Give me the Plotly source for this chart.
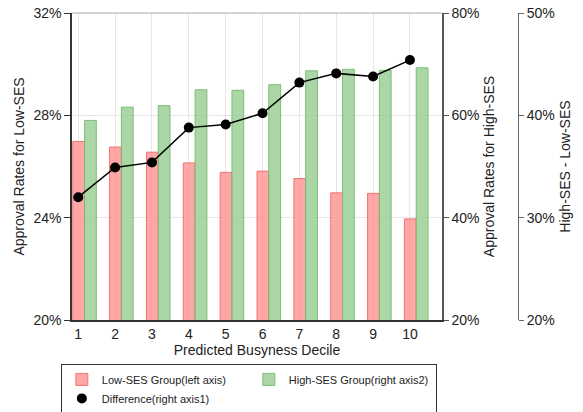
import plotly.graph_objects as go

# Predicted busyness deciles
deciles = [1, 2, 3, 4, 5, 6, 7, 8, 9, 10]

# Approval rates (%) by group
low_ses = [26.98, 26.76, 26.56, 26.14, 25.77, 25.82, 25.53, 24.97, 24.95, 23.95]
high_ses = [59.0, 61.6, 61.9, 65.0, 64.9, 66.0, 68.7, 69.0, 68.8, 69.3]
difference = [32.0, 34.9, 35.4, 38.8, 39.1, 40.2, 43.2, 44.1, 43.8, 45.4]

left_ticks = [20, 24, 28, 32]
right1_ticks = [20, 40, 60, 80]
right2_ticks = [20, 30, 40, 50]

FONT = "Liberation Sans, Arial, sans-serif"
BAR_W = 0.32

fig = go.Figure()

fig.add_trace(go.Bar(
    x=deciles, y=low_ses, name="Low-SES Group(left axis)",
    width=BAR_W, offset=-0.15,
    marker=dict(color="rgba(255,145,145,0.8)",
                line=dict(color="rgba(240,105,105,0.9)", width=1)),
    yaxis="y", base=0,
))
fig.add_trace(go.Bar(
    x=deciles, y=high_ses, name="High-SES Group(right axis2)",
    width=BAR_W, offset=0.17,
    marker=dict(color="rgba(150,205,145,0.8)",
                line=dict(color="rgba(115,185,110,0.9)", width=1)),
    yaxis="y2", base=0,
))
fig.add_trace(go.Scatter(
    x=deciles, y=difference, mode="lines+markers",
    line=dict(color="black", width=1.5),
    marker=dict(color="black", size=10),
    yaxis="y3", showlegend=False,
))
# marker-only legend entry for the difference series
fig.add_trace(go.Scatter(
    x=[None], y=[None], mode="markers", name="Difference(right axis1)",
    marker=dict(color="black", size=10), yaxis="y3",
))

axis_font = dict(family=FONT, size=14, color="#222")

fig.update_layout(
    width=583, height=412,
    margin=dict(l=72, r=65, t=13, b=92, autoexpand=False),
    plot_bgcolor="white", paper_bgcolor="white",
    font=dict(family=FONT, color="#222"),
    barmode="overlay",
    xaxis=dict(
        domain=[0, 370 / 446], range=[0.83, 10.87],
        tickmode="array", tickvals=deciles, ticktext=[str(d) for d in deciles],
        tickfont=axis_font, ticks="", ticklen=0,
        showgrid=True, gridcolor="#e6e6e6", gridwidth=1,
        showline=True, linecolor="#333", linewidth=1.5,
        title=dict(text="Predicted Busyness Decile", font=axis_font, standoff=0),
        zeroline=False,
    ),
    yaxis=dict(
        range=[20, 32], tickvals=left_ticks,
        ticktext=[f"{v}%" for v in left_ticks],
        tickfont=axis_font, ticks="outside", ticklen=6, tickcolor="#333",
        showgrid=True, gridcolor="#e6e6e6",
        showline=True, linecolor="#333", linewidth=1.5,
        title=dict(text="Approval Rates for Low-SES", font=axis_font, standoff=6),
        zeroline=False,
    ),
    yaxis2=dict(
        range=[20, 80], tickvals=right1_ticks,
        ticktext=[f"{v}%" for v in right1_ticks],
        overlaying="y", side="right", anchor="x",
        tickfont=axis_font, ticks="outside", ticklen=5, tickcolor="#555",
        showgrid=False, showline=True, linecolor="#555", linewidth=1.5,
        title=dict(text="Approval Rates for High-SES", font=axis_font, standoff=6),
        zeroline=False,
    ),
    yaxis3=dict(
        range=[20, 50], tickvals=right2_ticks,
        ticktext=[f"{v}%" for v in right2_ticks],
        overlaying="y", side="right", anchor="free", position=1.0,
        tickfont=axis_font, ticks="outside", ticklen=5, tickcolor="#666",
        showgrid=False, showline=True, linecolor="#666", linewidth=1,
        title=dict(text="High-SES - Low-SES", font=axis_font, standoff=6),
        zeroline=False,
    ),
    legend=dict(
        orientation="h", x=-0.025, y=-0.143, xanchor="left", yanchor="top",
        font=dict(family=FONT, size=11, color="#222"),
        bordercolor="#333", borderwidth=1, bgcolor="white",
        entrywidth=142, traceorder="normal",
    ),
    shapes=[dict(type="line", xref="x domain", yref="y domain",
                 x0=0, x1=1, y0=1, y1=1,
                 line=dict(color="#aaa", width=1))],
)

fig.write_html("out.html")
